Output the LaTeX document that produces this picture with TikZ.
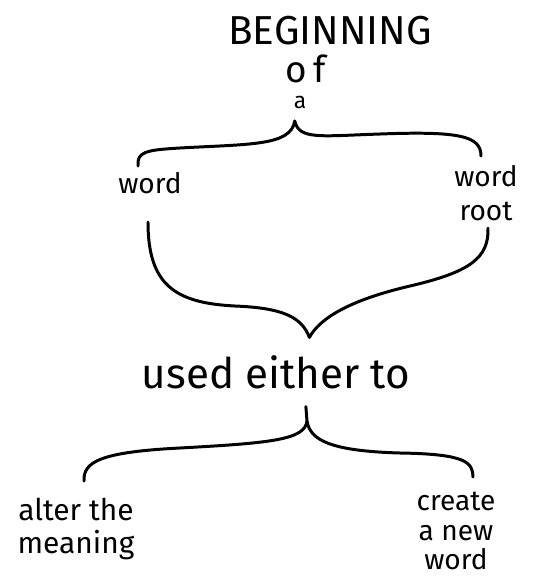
\documentclass[tikz,border=0pt]{standalone}
\usepackage{fontspec}
\setmainfont{Fira Sans}
\tikzset{
  lbl/.style={font=\fontsize{16}{16}\selectfont, align=center, inner sep=1pt},
  brace/.style={line width=1.7pt, line cap=round, line join=round},
}
\begin{document}
\begin{tikzpicture}[x=0.02cm, y=-0.02cm]
\useasboundingbox (0,0) rectangle (548,583);
% texts
\node[font=\fontsize{23}{24}\selectfont, inner sep=1pt] (beg) at (330,31) {BEGINNING};
\node[lbl, font=\fontsize{21}{21}\selectfont, inner sep=0pt] (of) at (306,69) {o\,f};
\node[lbl, font=\fontsize{13}{14}\selectfont, inner sep=0pt] (a) at (300,102) {a};
\node[lbl] (wl) at (150,183) {word};
\node[lbl, font=\fontsize{16}{19}\selectfont] (wr) at (486,193) {word\\root};
\node[font=\fontsize{24}{24}\selectfont, inner sep=10pt] (used) at (276,372) {used either to};
\node[lbl, font=\fontsize{17}{19}\selectfont] (alt) at (76,529) {alter the\\meaning};
\node[lbl, font=\fontsize{16}{17}\selectfont] (cre) at (456,531) {create\\a new\\word};
% free ends of the braces
\coordinate (tl) at (138,166);
\coordinate (tr) at (481,156);
\coordinate (bl) at (148,222);
\coordinate (br) at (488,228);
\coordinate (stem) at (307,421);
\coordinate (ll) at (84,481);
\coordinate (lr) at (473,477);
% braces
\draw[brace] (tl) .. controls (137,152) and (145,150) .. (180,148)
  .. controls (250,144) and (291,146) .. ([xshift=-3pt,yshift=-7pt]a.south)
  .. controls (299,140) and (320,136) .. (380,134)
  .. controls (460,131) and (481,136) .. (tr);
\draw[brace] (bl) .. controls (148,285) and (175,303) .. (235,306)
  .. controls (285,308) and (302,318) .. ([xshift=19pt]used.north)
  .. controls (320,318) and (350,300) .. (410,286)
  .. controls (470,272) and (489,258) .. (br);
\draw[brace] (ll) .. controls (83,462) and (100,452) .. (180,448)
  .. controls (270,443) and (305,440) .. (stem) -- ([xshift=17pt]used.south);
\draw[brace] (stem) .. controls (310,440) and (330,451) .. (400,453)
  .. controls (465,454) and (473,462) .. (lr);
\end{tikzpicture}
\end{document}
